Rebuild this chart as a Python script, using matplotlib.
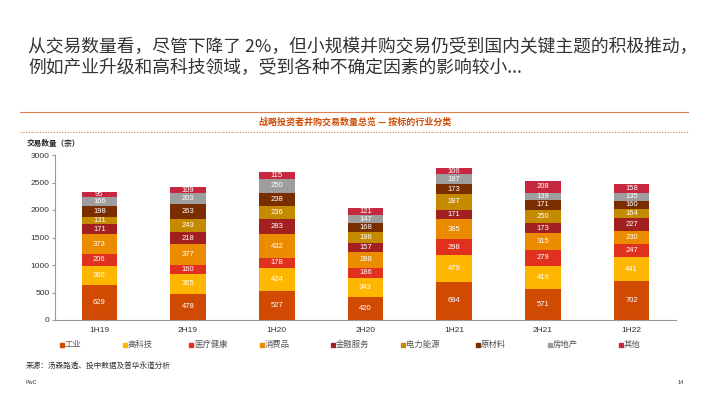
import matplotlib
matplotlib.use("Agg")
import matplotlib.pyplot as plt
import numpy as np
from matplotlib.lines import Line2D
from matplotlib.patches import Rectangle

plt.rcParams['font.family'] = ['Noto Sans CJK SC', 'DejaVu Sans']
NUMFONT = ['Liberation Sans', 'DejaVu Sans']

periods = ["1H19", "2H19", "1H20", "2H20", "1H21", "2H21", "1H22"]
sectors = ["工业", "高科技", "医疗健康", "消费品", "金融服务", "电力能源", "原材料", "房地产", "其他"]
industrial = [629, 478, 527, 420, 694, 571, 702]
hightech = [360, 365, 424, 343, 479, 419, 441]
healthcare = [206, 160, 178, 186, 298, 279, 247]
consumer = [373, 377, 432, 288, 365, 315, 230]
financial = [171, 218, 283, 157, 171, 173, 227]
energy = [131, 243, 236, 198, 287, 250, 164]
materials = [198, 263, 238, 168, 173, 171, 160]
realestate = [166, 203, 250, 147, 187, 139, 135]
others = [95, 109, 115, 121, 106, 208, 158]
series = [industrial, hightech, healthcare, consumer, financial, energy, materials, realestate, others]
colors = ["#D04A02", "#FFB600", "#E0301E", "#EB8C00", "#A32020", "#C48A00", "#7A2E00", "#9E9E9E", "#C8283F"]
yticks = [0, 500, 1000, 1500, 2000, 2500, 3000]

fig = plt.figure(figsize=(7.10, 3.99), dpi=100)
ax = fig.add_axes([55/710, 1-320/399, 621/710, 165/399])

x = np.arange(len(periods))
bottom = np.zeros(len(periods))
for vals, col in zip(series, colors):
    v = np.array(vals, dtype=float)
    ax.bar(x, v, 0.4, bottom=bottom, color=col, edgecolor='none')
    for xi, b, h in zip(x, bottom, v):
        ax.text(xi, b + h/2, f"{int(h)}", ha='center', va='center', color='white',
                fontsize=5.5, family=NUMFONT)
    bottom += v

ax.set_xlim(-0.5, len(periods) - 0.5)
ax.set_ylim(0, 3000)
ax.set_yticks(yticks)
ax.set_yticklabels([str(t) for t in yticks], fontsize=6, color='#333333', family=NUMFONT)
ax.set_xticks(x)
ax.set_xticklabels(periods, fontsize=6, color='#333333', family=NUMFONT)
for s in ['top', 'right']:
    ax.spines[s].set_visible(False)
for s in ['left', 'bottom']:
    ax.spines[s].set_color('#999999')
    ax.spines[s].set_linewidth(0.8)
ax.tick_params(axis='y', length=2, color='#999999', pad=2)
ax.tick_params(axis='x', length=0, pad=5)

# Title text
fig.text(28/710, 1-47/399, "从交易数量看，尽管下降了 2%，但小规模并购交易仍受到国内关键主题的积极推动，",
         fontsize=12.8, color='#333333', va='center', ha='left', fontweight='light')
fig.text(28/710, 1-68/399, "例如产业升级和高科技领域，受到各种不确定因素的影响较小...",
         fontsize=12.8, color='#333333', va='center', ha='left', fontweight='light')

# Lines and chart title
fig.add_artist(Line2D([20/710, 688/710], [1-112/399, 1-112/399], color='#D04A02', lw=0.8, alpha=0.7))
fig.add_artist(Line2D([20/710, 688/710], [1-132/399, 1-132/399], color='#D04A02', lw=0.8, ls=(0, (1, 1.5)), alpha=0.7))
fig.text(355/710, 1-122/399, "战略投资者并购交易数量总览 — 按标的行业分类", fontsize=6.5,
         color='#D04A02', ha='center', va='center', fontweight='bold')
fig.text(27/710, 1-143/399, "交易数量（宗）", fontsize=5.5, color='#222222', ha='left', va='center', fontweight='bold')

# Legend
leg_x = [62, 125, 191, 262, 333, 403, 478, 550, 621]
for lx, name, col in zip(leg_x, sectors, colors):
    fig.add_artist(Rectangle(((lx-2)/710, 1-346.5/399), 4/710, 4/399, color=col, transform=fig.transFigure))
    fig.text((lx+3)/710, 1-344.5/399, name, fontsize=6, color='#555555', ha='left', va='center')

fig.text(26/710, 1-366/399, "来源：汤森路透、投中数据及普华永道分析", fontsize=5.5, color='#333333', ha='left', va='center')
fig.text(26/710, 1-383/399, "PwC", fontsize=4, color='#333333', ha='left', va='center', family=NUMFONT)
fig.text(681/710, 1-383/399, "14", fontsize=4, color='#333333', ha='center', va='center', family=NUMFONT)

fig.savefig("out.png", dpi=100)
